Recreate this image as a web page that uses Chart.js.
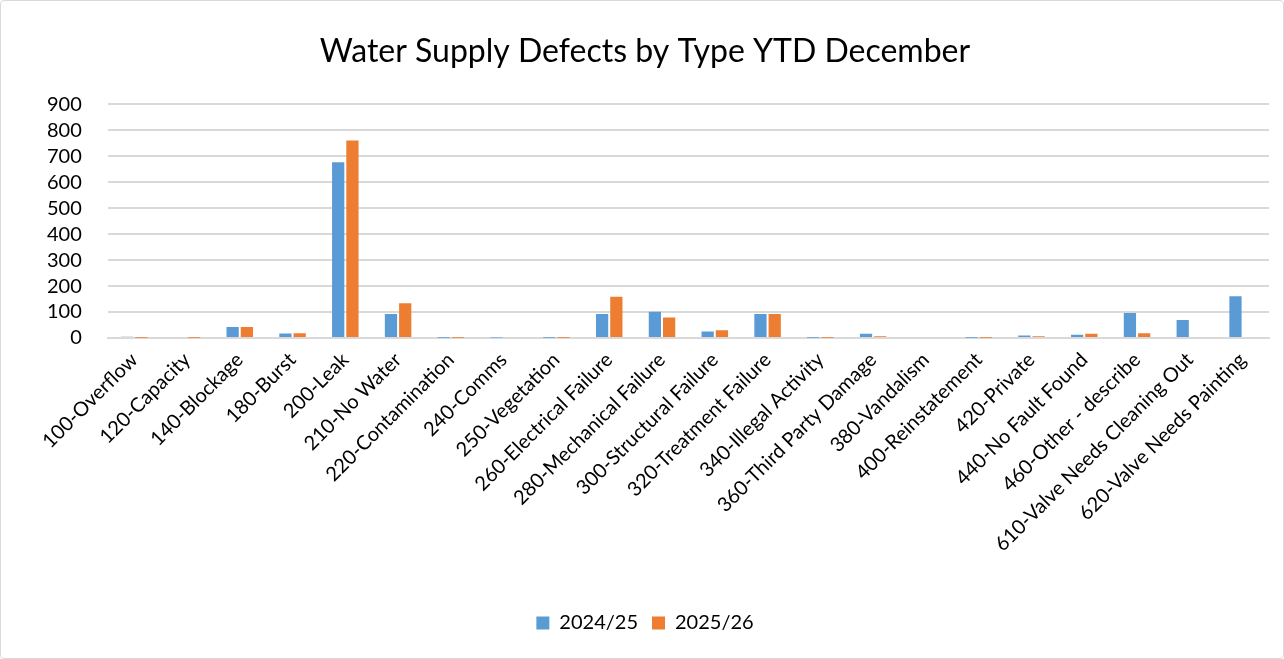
<!DOCTYPE html>
<html>
<head>
<meta charset="utf-8">
<script src="https://cdn.jsdelivr.net/npm/chart.js@4"></script>
<style>
  html, body { margin: 0; padding: 0; background: #fff; }
  #wrap { position: absolute; left: 0; top: 0; width: 1282px; height: 657px; border: 1px solid #d9d9d9; border-radius: 4px; }
  canvas { display: block; }
</style>
</head>
<body>
<div id="wrap"><canvas id="c" width="1282" height="657"></canvas></div>
<script>
const categories = ["100-Overflow","120-Capacity","140-Blockage","180-Burst","200-Leak","210-No Water","220-Contamination","240-Comms","250-Vegetation","260-Electrical Failure","280-Mechanical Failure","300-Structural Failure","320-Treatment Failure","340-Illegal Activity","360-Third Party Damage","380-Vandalism","400-Reinstatement","420-Private","440-No Fault Found","460-Other - describe","610-Valve Needs Cleaning Out","620-Valve Needs Painting"];
const series2024 = [5, 0, 42, 17, 677, 92, 1, 2, 1, 92, 101, 25, 92, 1, 16, 0, 1, 10, 13, 96, 69, 161];
const series2025 = [1, 1, 42, 18, 761, 134, 1, 0, 1, 159, 79, 30, 92, 1, 7, 0, 1, 7, 16, 18, 0, 0];
const yTicks = [0, 100, 200, 300, 400, 500, 600, 700, 800, 900];
const titleText = "Water Supply Defects by Type YTD December";

const FONT = "Lato, 'Liberation Sans', sans-serif";
Chart.defaults.font.family = FONT;
Chart.defaults.color = "#000";

new Chart(document.getElementById('c'), {
  type: 'bar',
  data: {
    labels: categories,
    datasets: [
      { label: '2024/25', data: series2024, backgroundColor: '#5B9BD5', categoryPercentage: 0.54, barPercentage: 0.86 },
      { label: '2025/26', data: series2025, backgroundColor: '#ED7D31', categoryPercentage: 0.54, barPercentage: 0.86 }
    ]
  },
  options: {
    responsive: false,
    animation: false,
    layout: { padding: { left: 20, right: 14, top: 10, bottom: 15 } },
    plugins: {
      title: { display: true, text: titleText, font: { size: 32, weight: 'normal', family: FONT }, color: '#000', padding: { top: 21, bottom: 34 } },
      legend: { position: 'bottom', labels: { boxWidth: 13, boxHeight: 13, font: { size: 20, family: FONT }, color: '#000', padding: 14 } },
      tooltip: { enabled: false }
    },
    scales: {
      x: {
        grid: { display: false },
        border: { color: '#d9d9d9', width: 2 },
        ticks: { minRotation: 45, maxRotation: 45, autoSkip: false, font: { size: 20, family: FONT }, color: '#000', padding: 2 },
        afterFit: (s) => { s.height = 261; }
      },
      y: {
        min: 0, max: 900,
        afterBuildTicks: (axis) => { axis.ticks = yTicks.map(v => ({ value: v })); },
        grid: { color: '#d9d9d9', lineWidth: 2, drawTicks: false },
        border: { display: false },
        ticks: { autoSkip: false, font: { size: 20, family: FONT }, color: '#000', padding: 26 }
      }
    }
  }
});
</script>
</body>
</html>
